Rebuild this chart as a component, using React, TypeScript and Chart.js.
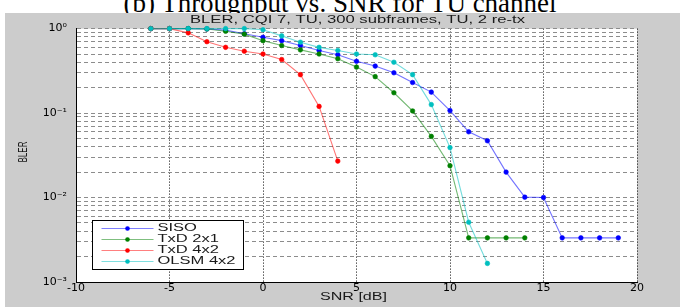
import React, { useEffect, useRef } from 'react';
import { Chart, registerables } from 'chart.js';

Chart.register(...registerables);

// ---------- data ----------
const sisoSnr = [-6, -5, -4, -3, -2, -1, 0, 1, 2, 3, 4, 5, 6, 7, 8, 9, 10, 11, 12, 13, 14, 15, 16, 17, 18, 19];
const sisoBler = [1.0, 1.0, 1.0, 0.99, 0.96, 0.87, 0.79, 0.72, 0.63, 0.55, 0.49, 0.41, 0.36, 0.30, 0.23, 0.177, 0.107, 0.060, 0.047, 0.020, 0.0101, 0.0100, 0.00333, 0.00333, 0.00333, 0.00333];

const txd21Snr = [-6, -5, -4, -3, -2, -1, 0, 1, 2, 3, 4, 5, 6, 7, 8, 9, 10, 11, 12, 13, 14];
const txd21Bler = [1.0, 1.0, 1.0, 0.99, 0.93, 0.86, 0.72, 0.63, 0.56, 0.50, 0.44, 0.35, 0.27, 0.174, 0.106, 0.053, 0.0238, 0.00333, 0.00333, 0.00333, 0.00333];

const txd42Snr = [-6, -5, -4, -3, -2, -1, 0, 1, 2, 3, 4];
const txd42Bler = [1.0, 1.0, 0.89, 0.70, 0.60, 0.54, 0.50, 0.43, 0.285, 0.12, 0.027];

const olsmSnr = [-6, -5, -4, -3, -2, -1, 0, 1, 2, 3, 4, 5, 6, 7, 8, 9, 10, 11, 12];
const olsmBler = [1.0, 1.0, 1.0, 1.0, 1.0, 1.0, 0.97, 0.82, 0.69, 0.60, 0.55, 0.50, 0.49, 0.40, 0.285, 0.126, 0.039, 0.0051, 0.00166];

const seriesLabels = ['SISO', 'TxD 2x1', 'TxD 4x2', 'OLSM 4x2'];
const seriesColors = ['#0000ff', '#008000', '#ff0000', '#00bfbf'];

const xTickValues = [-10, -5, 0, 5, 10, 15, 20];
const yDecades = [0.001, 0.01, 0.1];
const yMultipliers = [1, 2, 3, 4, 5, 6, 7, 8, 9];

const chartTitle = 'BLER, CQI 7, TU, 300 subframes, TU, 2 re-tx';
const xTitle = 'SNR [dB]';
const yTitle = 'BLER';
const caption = '(b) Throughput vs. SNR for TU channel';

// ---------- helpers ----------
const SUP: Record<string, string> = { '0': '\u2070', '1': '\u00b9', '2': '\u00b2', '3': '\u00b3', '-': '\u207b' };
const toSup = (s: string) => s.split('').map((c) => SUP[c] ?? c).join('');

const yGridValues = yDecades
  .flatMap((d) => yMultipliers.map((m) => Number((d * m).toPrecision(3))))
  .concat([1]);

const isDecade = (v: number) => {
  const l = Math.log10(v);
  return Math.abs(l - Math.round(l)) < 1e-9;
};

const withAlpha = (hex: string, a: number) => {
  const r = parseInt(hex.slice(1, 3), 16);
  const g = parseInt(hex.slice(3, 5), 16);
  const b = parseInt(hex.slice(5, 7), 16);
  return `rgba(${r},${g},${b},${a})`;
};

const SANS = '"Liberation Sans", Arial, sans-serif';

function drawStretched(
  ctx: CanvasRenderingContext2D,
  text: string,
  x: number,
  y: number,
  fontPx: number,
  targetWidth: number,
  align: CanvasTextAlign,
  color = '#1a1a1a'
) {
  ctx.save();
  ctx.font = `${fontPx}px ${SANS}`;
  const w = ctx.measureText(text).width;
  const sx = targetWidth / w;
  ctx.translate(x, y);
  ctx.scale(sx, 1);
  ctx.textAlign = align;
  ctx.textBaseline = 'middle';
  ctx.fillStyle = color;
  ctx.fillText(text, 0, 0);
  ctx.restore();
}

const decorPlugin = {
  id: 'decor',
  beforeDraw(chart: any) {
    const { ctx, chartArea: ca } = chart;
    ctx.save();
    ctx.fillStyle = '#ffffff';
    ctx.fillRect(ca.left, ca.top, ca.right - ca.left, ca.bottom - ca.top);
    ctx.restore();
  },
  afterDraw(chart: any) {
    const { ctx, chartArea: ca } = chart;
    const cx = (ca.left + ca.right) / 2;
    // title
    drawStretched(ctx, chartTitle, cx + 1, 7, 10, 335, 'center');
    // x title
    drawStretched(ctx, xTitle, cx - 3, 284, 10, 67, 'center');
    // y title (rotated)
    ctx.save();
    ctx.translate(19, 139);
    ctx.rotate(-Math.PI / 2);
    ctx.font = `12px ${SANS}`;
    const wy = ctx.measureText(yTitle).width;
    ctx.scale(21 / wy, 1);
    ctx.textAlign = 'center';
    ctx.textBaseline = 'middle';
    ctx.fillStyle = '#1a1a1a';
    ctx.fillText(yTitle, 0, 0);
    ctx.restore();

    // legend
    const bx = 87.5, by = 207.5, bw = 151, bh = 49;
    ctx.save();
    ctx.fillStyle = '#ffffff';
    ctx.fillRect(bx, by, bw, bh);
    ctx.strokeStyle = '#000';
    ctx.lineWidth = 1;
    ctx.strokeRect(bx, by, bw, bh);
    ctx.font = `10px ${SANS}`;
    const widest = ctx.measureText('OLSM 4x2').width;
    const sx = 78 / widest;
    seriesLabels.forEach((label, i) => {
      const y = 215.5 + i * 11;
      const col = seriesColors[i];
      ctx.strokeStyle = withAlpha(col, 0.5);
      ctx.lineWidth = 1;
      ctx.beginPath();
      ctx.moveTo(96.5, y);
      ctx.lineTo(148.5, y);
      ctx.stroke();
      ctx.fillStyle = col;
      ctx.beginPath();
      ctx.arc(122.5, y, 2.3, 0, Math.PI * 2);
      ctx.fill();
      ctx.save();
      ctx.translate(152.5, y);
      ctx.scale(sx, 1);
      ctx.fillStyle = '#1a1a1a';
      ctx.textAlign = 'left';
      ctx.textBaseline = 'middle';
      ctx.fillText(label, 0, 0);
      ctx.restore();
    });
    ctx.restore();
  },
};

export default function App() {
  const ref = useRef<HTMLCanvasElement | null>(null);

  useEffect(() => {
    if (!ref.current) return;
    const seriesX = [sisoSnr, txd21Snr, txd42Snr, olsmSnr];
    const seriesY = [sisoBler, txd21Bler, txd42Bler, olsmBler];
    const datasets = seriesLabels.map((label, i) => ({
      label,
      data: seriesX[i].map((x, k) => ({ x, y: seriesY[i][k] })),
      borderColor: withAlpha(seriesColors[i], 0.55),
      backgroundColor: seriesColors[i],
      pointBackgroundColor: seriesColors[i],
      pointBorderColor: seriesColors[i],
      pointBorderWidth: 0.6,
      pointRadius: 2.3,
      borderWidth: 1.1,
      tension: 0,
      clip: false as any,
      order: 3 - i,
    }));

    const chart = new Chart(ref.current, {
      type: 'line',
      data: { datasets },
      plugins: [decorPlugin],
      options: {
        responsive: false,
        animation: false,
        devicePixelRatio: 1,
        layout: { padding: { top: 14, right: 43, left: 0, bottom: 0 } },
        plugins: {
          legend: { display: false },
          title: { display: false },
          tooltip: { enabled: false },
        },
        scales: {
          x: {
            type: 'linear',
            min: -10,
            max: 20,
            afterBuildTicks: (scale: any) => {
              scale.ticks = xTickValues.map((v) => ({ value: v }));
            },
            afterFit: (scale: any) => {
              scale.height = 25;
            },
            ticks: {
              autoSkip: false,
              maxRotation: 0,
              padding: 0,
              color: '#000',
              font: { family: '"DejaVu Sans", sans-serif', size: 11 },
              callback: (v: any) => String(v),
            },
            grid: { color: '#000', lineWidth: 1, drawTicks: false },
            border: { display: true, color: '#000', width: 1, dash: [1, 2] },
          },
          y: {
            type: 'logarithmic',
            min: 0.001,
            max: 1,
            afterBuildTicks: (scale: any) => {
              scale.ticks = yGridValues.map((v) => ({ value: v, major: isDecade(v) }));
            },
            afterFit: (scale: any) => {
              scale.width = 71;
            },
            ticks: {
              autoSkip: false,
              padding: 9,
              color: '#000',
              font: { family: '"DejaVu Sans", sans-serif', size: 11 },
              callback: (v: any) => {
                const n = Number(v);
                if (!isDecade(n)) return '';
                return '10' + toSup(String(Math.round(Math.log10(n))));
              },
            },
            grid: { color: '#8c8c8c', lineWidth: 1, drawTicks: false },
            border: { display: true, color: '#000', width: 1, dash: [4, 3] },
          },
        },
      } as any,
    });
    return () => chart.destroy();
  }, []);

  return (
    <div
      style={{
        position: 'fixed',
        left: 0,
        top: 0,
        width: 680,
        height: 307,
        overflow: 'hidden',
        background: '#ffffff',
      }}
    >
      <div
        style={{
          position: 'absolute',
          left: 0,
          top: -10,
          width: 680,
          textAlign: 'center',
          fontFamily: '"Liberation Serif", "DejaVu Serif", serif',
          fontSize: 27,
          lineHeight: '27px',
          color: '#000',
          whiteSpace: 'nowrap',
        }}
      >
        {caption}
      </div>
      <canvas
        ref={ref}
        width={675}
        height={294}
        style={{
          position: 'absolute',
          left: 5,
          top: 13,
          width: 675,
          height: 294,
          background: '#cccccc',
          display: 'block',
        }}
      />
    </div>
  );
}
